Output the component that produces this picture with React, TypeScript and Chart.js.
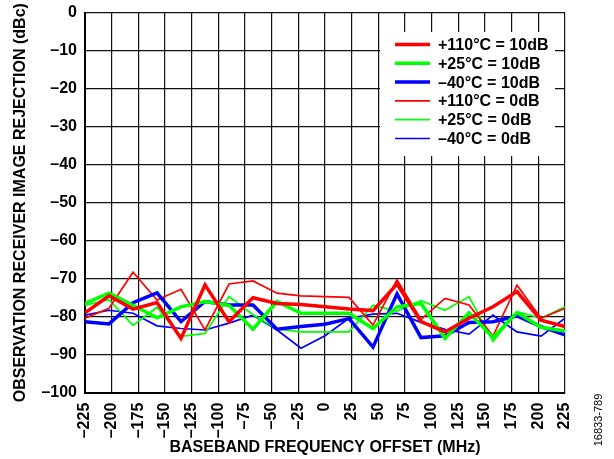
import React, { useEffect, useRef } from "react";
import { Chart, registerables } from "chart.js";

Chart.register(...registerables);

// Frequency offsets (MHz) of measured points
const freqs = [
  -225, -202.5, -180, -157.5, -135, -112.5, -90, -67.5, -45, -22.5, 0,
  22.5, 45, 67.5, 90, 112.5, 135, 157.5, 180, 202.5, 225,
];

// Image rejection (dBc)
const hot10 = [-79, -74.5, -78, -76.3, -85.7, -71.6, -81.3, -75, -76.5, -76.8, -77.4, -78, -78.4, -71.4, -81.3, -84, -80.4, -77.4, -73.4, -80.9, -82.6];
const room10 = [-76.5, -73.8, -77, -80.3, -77.4, -76, -77, -83.3, -76, -79.1, -79.1, -79.1, -83.1, -77.4, -76.5, -85.7, -79, -85.5, -78.9, -82.8, -83.8];
const cold10 = [-81.3, -81.9, -76.3, -73.7, -81.3, -76, -76.9, -76.9, -83.3, -82.6, -82, -80.5, -88, -74, -85.5, -85, -81.5, -81.3, -79.8, -82.6, -84.8];
const hot0 = [-80.4, -77.8, -68.3, -75.6, -72.8, -83.5, -71.4, -70.6, -73.8, -74.5, -74.7, -74.9, -82.2, -70.3, -80.7, -75.2, -76.9, -85.1, -71.7, -80.4, -77.8];
const room0 = [-77, -75.5, -82.3, -77.5, -85.2, -84.4, -74.7, -79.5, -83.2, -84, -84, -84, -77, -78.5, -75.8, -78.3, -74.7, -86.5, -78.7, -80.4, -77.4];
const cold0 = [-79.6, -78.3, -79.1, -82.4, -83.1, -83.5, -81.7, -79.6, -83.5, -88.3, -85, -80.4, -79.3, -79.1, -81.5, -83.3, -84.6, -79.6, -84, -85.1, -80.4];

const seriesLabels = [
  "+110°C = 10dB",
  "+25°C = 10dB",
  "–40°C = 10dB",
  "+110°C = 0dB",
  "+25°C = 0dB",
  "–40°C = 0dB",
];

const FONT = "'Liberation Sans', Arial, Helvetica, sans-serif";

const dash = (v: number) => String(v).replace("-", "–");

const legendPlugin = {
  id: "boxLegend",
  afterDatasetsDraw(chart: any) {
    const ctx = chart.ctx;
    ctx.save();
    ctx.fillStyle = "#ffffff";
    ctx.fillRect(380, 32, 175, 124);
    const rowY0 = 44.5;
    const rowH = 18.8;
    chart.data.datasets.forEach((ds: any, i: number) => {
      const y = rowY0 + i * rowH;
      ctx.strokeStyle = ds.borderColor;
      ctx.lineWidth = ds.borderWidth;
      ctx.beginPath();
      ctx.moveTo(395, y);
      ctx.lineTo(430, y);
      ctx.stroke();
      ctx.fillStyle = "#000";
      ctx.font = `bold 16px ${FONT}`;
      ctx.textAlign = "left";
      ctx.textBaseline = "middle";
      ctx.fillText(ds.label, 438, y + 1);
    });
    ctx.restore();
  },
  afterDraw(chart: any) {
    const ctx = chart.ctx;
    ctx.save();
    ctx.translate(599, 420);
    ctx.rotate(-Math.PI / 2);
    ctx.fillStyle = "#000";
    ctx.font = `11px ${FONT}`;
    ctx.textAlign = "center";
    ctx.textBaseline = "middle";
    ctx.fillText("16833-789", 0, 0);
    ctx.restore();
  },
};

export default function App() {
  const ref = useRef<HTMLCanvasElement | null>(null);

  useEffect(() => {
    if (!ref.current) return;
    const series = [hot10, room10, cold10, hot0, room0, cold0];
    const colors = ["#ff0000", "#00ff00", "#0000ff", "#ff0000", "#00ff00", "#0000ff"];
    const widths = [3.5, 3.5, 3.5, 1.7, 1.7, 1.7];
    const chart = new Chart(ref.current, {
      type: "line",
      data: {
        datasets: series.map((s, k) => ({
          label: seriesLabels[k],
          data: s.map((v, i) => ({ x: freqs[i], y: v })),
          borderColor: colors[k],
          backgroundColor: colors[k],
          borderWidth: widths[k],
          pointRadius: 0,
          tension: 0,
          fill: false,
        })),
      },
      options: {
        responsive: false,
        animation: false,
        layout: { padding: { left: 0, top: 12.7, right: 49, bottom: 0 } },
        plugins: { legend: { display: false }, tooltip: { enabled: false } },
        scales: {
          x: {
            type: "linear",
            min: -225,
            max: 225,
            afterFit: (s: any) => {
              s.height = 459 - 392.7 - 0;
            },
            afterBuildTicks: (s: any) => {
              const t = [];
              for (let v = -225; v <= 225; v += 25) t.push({ value: v });
              s.ticks = t;
            },
            ticks: {
              autoSkip: false,
              minRotation: 90,
              maxRotation: 90,
              padding: 10,
              color: "#000",
              font: { family: FONT, size: 16, weight: "bold" },
              callback: (v: any) => dash(Number(v)),
            },
            grid: { color: "#111", lineWidth: 1.2, drawTicks: false },
            border: { color: "#000", width: 2 },
            title: {
              display: true,
              text: "BASEBAND FREQUENCY OFFSET (MHz)",
              color: "#000",
              font: { family: FONT, size: 16, weight: "bold" },
              padding: { top: 0, bottom: 1.5 },
            },
          },
          y: {
            type: "linear",
            min: -100,
            max: 0,
            afterFit: (s: any) => {
              s.width = 85;
              s.paddingTop = 0;
              s.paddingBottom = 0;
            },
            ticks: {
              stepSize: 10,
              padding: 8,
              color: "#000",
              font: { family: FONT, size: 16, weight: "bold" },
              callback: (v: any) => dash(Number(v)),
            },
            grid: { color: "#111", lineWidth: 1.2, drawTicks: false },
            border: { color: "#000", width: 2 },
            title: {
              display: true,
              text: "OBSERVATION RECEIVER IMAGE REJECTION (dBc)",
              color: "#000",
              font: { family: FONT, size: 16, weight: "bold" },
              padding: { top: 11, bottom: 0 },
            },
          },
        },
      },
      plugins: [legendPlugin],
    } as any);
    return () => chart.destroy();
  }, []);

  return (
    <div style={{ position: "fixed", left: 0, top: 0, width: 614, height: 459, background: "#fff" }}>
      <canvas ref={ref} width={614} height={459} style={{ width: 614, height: 459 }} />
    </div>
  );
}
